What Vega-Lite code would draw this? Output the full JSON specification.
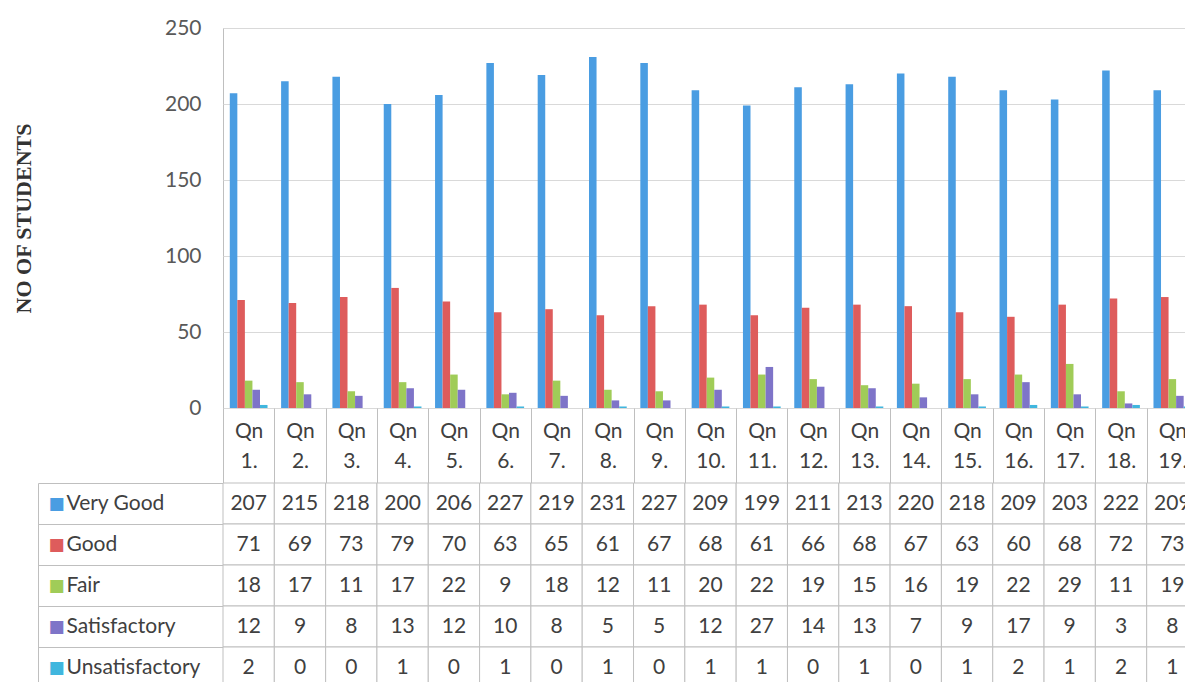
{
  "$schema": "https://vega.github.io/schema/vega-lite/v6.json",
  "padding": {"left": 11, "top": 16, "right": 0, "bottom": 0},
  "background": "white",
  "spacing": 75,
  "bounds": "flush",
  "config": {"view": {"stroke": "#bfbfbf"}, "font": "Lato"},
  "datasets": {
    "d": [
      {"q":"Qn 1.","s":"Very Good","v":207},{"q":"Qn 2.","s":"Very Good","v":215},{"q":"Qn 3.","s":"Very Good","v":218},{"q":"Qn 4.","s":"Very Good","v":200},{"q":"Qn 5.","s":"Very Good","v":206},{"q":"Qn 6.","s":"Very Good","v":227},{"q":"Qn 7.","s":"Very Good","v":219},{"q":"Qn 8.","s":"Very Good","v":231},{"q":"Qn 9.","s":"Very Good","v":227},{"q":"Qn 10.","s":"Very Good","v":209},{"q":"Qn 11.","s":"Very Good","v":199},{"q":"Qn 12.","s":"Very Good","v":211},{"q":"Qn 13.","s":"Very Good","v":213},{"q":"Qn 14.","s":"Very Good","v":220},{"q":"Qn 15.","s":"Very Good","v":218},{"q":"Qn 16.","s":"Very Good","v":209},{"q":"Qn 17.","s":"Very Good","v":203},{"q":"Qn 18.","s":"Very Good","v":222},{"q":"Qn 19.","s":"Very Good","v":209},
      {"q":"Qn 1.","s":"Good","v":71},{"q":"Qn 2.","s":"Good","v":69},{"q":"Qn 3.","s":"Good","v":73},{"q":"Qn 4.","s":"Good","v":79},{"q":"Qn 5.","s":"Good","v":70},{"q":"Qn 6.","s":"Good","v":63},{"q":"Qn 7.","s":"Good","v":65},{"q":"Qn 8.","s":"Good","v":61},{"q":"Qn 9.","s":"Good","v":67},{"q":"Qn 10.","s":"Good","v":68},{"q":"Qn 11.","s":"Good","v":61},{"q":"Qn 12.","s":"Good","v":66},{"q":"Qn 13.","s":"Good","v":68},{"q":"Qn 14.","s":"Good","v":67},{"q":"Qn 15.","s":"Good","v":63},{"q":"Qn 16.","s":"Good","v":60},{"q":"Qn 17.","s":"Good","v":68},{"q":"Qn 18.","s":"Good","v":72},{"q":"Qn 19.","s":"Good","v":73},
      {"q":"Qn 1.","s":"Fair","v":18},{"q":"Qn 2.","s":"Fair","v":17},{"q":"Qn 3.","s":"Fair","v":11},{"q":"Qn 4.","s":"Fair","v":17},{"q":"Qn 5.","s":"Fair","v":22},{"q":"Qn 6.","s":"Fair","v":9},{"q":"Qn 7.","s":"Fair","v":18},{"q":"Qn 8.","s":"Fair","v":12},{"q":"Qn 9.","s":"Fair","v":11},{"q":"Qn 10.","s":"Fair","v":20},{"q":"Qn 11.","s":"Fair","v":22},{"q":"Qn 12.","s":"Fair","v":19},{"q":"Qn 13.","s":"Fair","v":15},{"q":"Qn 14.","s":"Fair","v":16},{"q":"Qn 15.","s":"Fair","v":19},{"q":"Qn 16.","s":"Fair","v":22},{"q":"Qn 17.","s":"Fair","v":29},{"q":"Qn 18.","s":"Fair","v":11},{"q":"Qn 19.","s":"Fair","v":19},
      {"q":"Qn 1.","s":"Satisfactory","v":12},{"q":"Qn 2.","s":"Satisfactory","v":9},{"q":"Qn 3.","s":"Satisfactory","v":8},{"q":"Qn 4.","s":"Satisfactory","v":13},{"q":"Qn 5.","s":"Satisfactory","v":12},{"q":"Qn 6.","s":"Satisfactory","v":10},{"q":"Qn 7.","s":"Satisfactory","v":8},{"q":"Qn 8.","s":"Satisfactory","v":5},{"q":"Qn 9.","s":"Satisfactory","v":5},{"q":"Qn 10.","s":"Satisfactory","v":12},{"q":"Qn 11.","s":"Satisfactory","v":27},{"q":"Qn 12.","s":"Satisfactory","v":14},{"q":"Qn 13.","s":"Satisfactory","v":13},{"q":"Qn 14.","s":"Satisfactory","v":7},{"q":"Qn 15.","s":"Satisfactory","v":9},{"q":"Qn 16.","s":"Satisfactory","v":17},{"q":"Qn 17.","s":"Satisfactory","v":9},{"q":"Qn 18.","s":"Satisfactory","v":3},{"q":"Qn 19.","s":"Satisfactory","v":8},
      {"q":"Qn 1.","s":"Unsatisfactory","v":2},{"q":"Qn 2.","s":"Unsatisfactory","v":0},{"q":"Qn 3.","s":"Unsatisfactory","v":0},{"q":"Qn 4.","s":"Unsatisfactory","v":1},{"q":"Qn 5.","s":"Unsatisfactory","v":0},{"q":"Qn 6.","s":"Unsatisfactory","v":1},{"q":"Qn 7.","s":"Unsatisfactory","v":0},{"q":"Qn 8.","s":"Unsatisfactory","v":1},{"q":"Qn 9.","s":"Unsatisfactory","v":0},{"q":"Qn 10.","s":"Unsatisfactory","v":1},{"q":"Qn 11.","s":"Unsatisfactory","v":1},{"q":"Qn 12.","s":"Unsatisfactory","v":0},{"q":"Qn 13.","s":"Unsatisfactory","v":1},{"q":"Qn 14.","s":"Unsatisfactory","v":0},{"q":"Qn 15.","s":"Unsatisfactory","v":1},{"q":"Qn 16.","s":"Unsatisfactory","v":2},{"q":"Qn 17.","s":"Unsatisfactory","v":1},{"q":"Qn 18.","s":"Unsatisfactory","v":2},{"q":"Qn 19.","s":"Unsatisfactory","v":1}
    ]
  },
  "data": {"name": "d"},
  "vconcat": [
    {
      "width": 975,
      "height": 380,
      "mark": {"type": "bar"},
      "encoding": {
        "x": {
          "field": "q", "type": "nominal", "sort": null,
          "scale": {"paddingInner": 0, "paddingOuter": 0},
          "axis": {
            "title": null, "orient": "bottom", "domain": false,
            "tickBand": "extent", "tickSize": 75, "tickColor": "#bfbfbf",
            "labelExpr": "split(datum.label, ' ')",
            "labelPadding": -63, "labelLineHeight": 30, "labelBaseline": "top",
            "labelFont": "Lato", "labelFontSize": 21, "labelColor": "#404040",
            "labelAngle": 0, "labelOverlap": false, "labelFlush": false, "labelBound": false
          }
        },
        "xOffset": {
          "field": "s", "type": "nominal",
          "sort": ["Very Good", "Good", "Fair", "Satisfactory", "Unsatisfactory"],
          "scale": {"paddingInner": 0, "paddingOuter": 0.9}
        },
        "y": {
          "field": "v", "type": "quantitative",
          "scale": {"domain": [0, 250], "nice": false},
          "axis": {
            "title": "NO OF STUDENTS", "titleFont": "Liberation Serif", "titleFontSize": 22,
            "titleFontWeight": "bold", "titleColor": "#333333", "titleX": -188, "titleY": 190,
            "values": [0, 50, 100, 150, 200, 250], "domain": false, "ticks": false,
            "labelPadding": 22, "labelFont": "Lato", "labelFontSize": 21, "labelColor": "#595959",
            "grid": true, "gridColor": "#d9d9d9"
          }
        },
        "color": {
          "field": "s", "type": "nominal",
          "scale": {
            "domain": ["Very Good", "Good", "Fair", "Satisfactory", "Unsatisfactory"],
            "range": ["#4A9DE2", "#DE5C5C", "#A0CC58", "#7E74C8", "#40B6DE"]
          },
          "legend": null
        }
      }
    },
    {
      "width": 975,
      "height": 205,
      "layer": [
        {
          "mark": {"type": "rect", "fill": "white", "stroke": "#bfbfbf", "strokeWidth": 1},
          "encoding": {
            "x": {"field": "q", "type": "nominal", "sort": null, "scale": {"paddingInner": 0, "paddingOuter": 0}, "axis": null},
            "y": {
              "field": "s", "type": "nominal",
              "sort": ["Very Good", "Good", "Fair", "Satisfactory", "Unsatisfactory"],
              "scale": {"paddingInner": 0, "paddingOuter": 0},
              "axis": {
                "orient": "left", "offset": 185, "title": null,
                "domain": true, "domainColor": "#bfbfbf", "ticks": false,
                "labelAlign": "left", "labelPadding": -28,
                "labelFont": "Lato", "labelFontSize": 21, "labelColor": "#404040"
              }
            }
          }
        },
        {
          "mark": {"type": "text", "font": "Lato", "fontSize": 21, "color": "#404040", "align": "center", "baseline": "middle"},
          "encoding": {
            "x": {"field": "q", "type": "nominal", "sort": null, "scale": {"paddingInner": 0, "paddingOuter": 0}, "axis": null},
            "y": {
              "field": "s", "type": "nominal",
              "sort": ["Very Good", "Good", "Fair", "Satisfactory", "Unsatisfactory"],
              "scale": {"paddingInner": 0, "paddingOuter": 0},
              "axis": {
                "orient": "left", "title": null, "domain": false,
                "tickBand": "extent", "tickSize": 185, "tickColor": "#bfbfbf",
                "labelExpr": "isValid(datum.value) && datum.index >= 0 ? '■' : ''",
                "labelAlign": "left", "labelPadding": -10,
                "labelFont": "DejaVu Sans", "labelFontSize": 17,
                "labelColor": {
                  "condition": [
                    {"test": "datum.value == 'Very Good'", "value": "#4A9DE2"},
                    {"test": "datum.value == 'Good'", "value": "#DE5C5C"},
                    {"test": "datum.value == 'Fair'", "value": "#A0CC58"},
                    {"test": "datum.value == 'Satisfactory'", "value": "#7E74C8"}
                  ],
                  "value": "#40B6DE"
                }
              }
            },
            "text": {"field": "v", "type": "quantitative"}
          }
        }
      ],
      "resolve": {"axis": {"y": "independent"}}
    }
  ]
}
